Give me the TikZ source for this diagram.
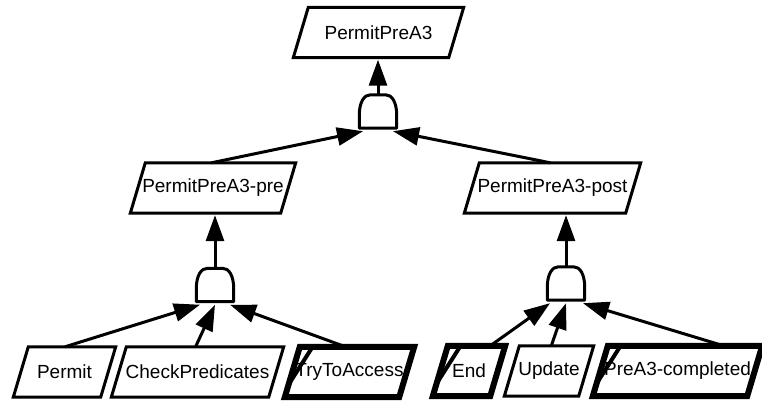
\documentclass[tikz,border=0pt]{standalone}
\usepackage{fontspec}
\setmainfont{Liberation Sans}
\usetikzlibrary{arrows.meta,calc}
\newcommand{\gtext}[1]{\makebox[0pt]{#1}}
\tikzset{
  goalBox/.style={rectangle, minimum height=50pt, inner sep=0pt, font=\fontsize{19}{22}\selectfont},
  thinEdge/.style={line width=3pt, line join=miter},
  thickEdge/.style={line width=6pt, line join=miter},
  andGate/.style={minimum width=37pt, minimum height=33pt, inner sep=0pt},
  gateLine/.style={line width=3pt, line join=round},
  treeArrow/.style={-{Triangle[length=26pt,width=18pt]}, line width=3pt},
  markLine/.style={line width=4pt}
}
\begin{document}
\begin{tikzpicture}[x=1pt,y=-1pt]
  \useasboundingbox (0,0) rectangle (762,401);
  % goals
  \node[goalBox, minimum width=155pt] (top) at (378.5,32.5) {\gtext{PermitPreA3}};
  \node[goalBox, minimum width=150pt] (pre) at (213,188) {\gtext{PermitPreA3-pre}};
  \node[goalBox, minimum width=161pt] (post) at (552.5,188) {\gtext{PermitPreA3-post}};
  % leaves
  \node[goalBox, minimum width=87pt] (permit) at (64.5,372) {\gtext{Permit}};
  \node[goalBox, minimum width=157pt] (check) at (197.5,372) {\gtext{CheckPredicates}};
  \node[goalBox, minimum width=114pt] (access) at (349.5,372) {\gtext{TryToAccess}};
  \node[goalBox, minimum width=57pt] (finish) at (469,371) {\gtext{End}};
  \node[goalBox, minimum width=74pt] (update) at (549,371) {\gtext{Update}};
  \node[goalBox, minimum width=154pt] (done) at (677.5,371) {\gtext{PreA3-completed}};
  % parallelogram outlines
  \foreach \n/\w in {top/thinEdge, pre/thinEdge, post/thinEdge, permit/thinEdge, check/thinEdge, update/thinEdge, access/thickEdge, finish/thickEdge, done/thickEdge}
    \draw[\w] ([xshift=-7.5pt]\n.south west) -- ([xshift=7.5pt]\n.north west) -- ([xshift=7.5pt]\n.north east) -- ([xshift=-7.5pt]\n.south east) -- cycle;
  \foreach \n in {access,finish,done}
    \draw[markLine] ($(\n.north west)+(19,2)$) -- ($([xshift=7.5pt]\n.north west)!0.75!([xshift=-7.5pt]\n.south west)$);
  % gates
  \node[andGate] (g0) at (378,111.5) {};
  \node[andGate] (g1) at (215,285) {};
  \node[andGate] (g2) at (566,283.5) {};
  \foreach \g in {g0,g1,g2}
    \draw[gateLine] (\g.south west) -- ($(\g.south west)+(0,-13)$)
      .. controls ($(\g.north west)+(0,7)$) and ($(\g.north west)+(5,0)$) .. ($(\g.north west)+(11,0)$)
      -- ($(\g.north east)+(-11,0)$)
      .. controls ($(\g.north east)+(-5,0)$) and ($(\g.north east)+(0,7)$) .. ($(\g.south east)+(0,-13)$)
      -- (\g.south east) -- cycle;
  % arrows
  \draw[treeArrow] (g0.north) -- ([yshift=-2pt]g0.north |- top.south);
  \draw[treeArrow] (g1.north) -- ([yshift=-2pt]g1.north |- pre.south);
  \draw[treeArrow] (g2.north) -- ([yshift=-2pt]g2.north |- post.south);
  \foreach \c/\f/\g/\dx in {pre/0.44/g0/-15, post/0.44/g0/15, permit/0.42/g1/-15, check/0.44/g1/0, access/0.40/g1/15, finish/0.74/g2/-16, update/0.43/g2/0, done/0.75/g2/17}
    \draw[treeArrow] ($(\c.north west)!\f!(\c.north east)+(7.5,0)$) -- ([xshift=\dx pt,yshift=-3pt]\g.south);
\end{tikzpicture}
\end{document}
